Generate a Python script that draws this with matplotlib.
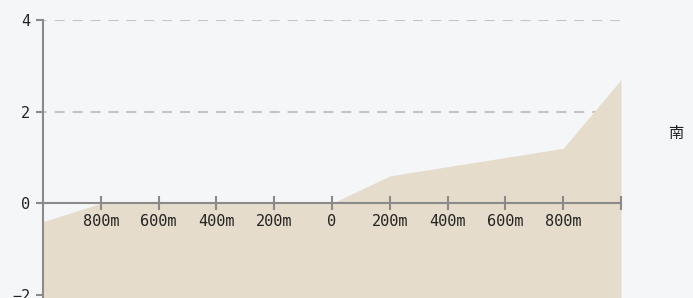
import matplotlib.pyplot as plt

# profile data (distance in m, elevation)
dist = [-1000, -800, -600, -400, -200, 0, 200, 400, 600, 800, 1000]
elev = [-0.4, 0.0, 0.0, 0.0, 0.0, 0.0, 0.6, 0.8, 1.0, 1.2, 2.7]
xticks = [-800, -600, -400, -200, 0, 200, 400, 600, 800, 1000]
xlabels = ["800m", "600m", "400m", "200m", "0", "200m", "400m", "600m", "800m", ""]
yticks = [-2, 0, 2, 4]
side_label = "南"

bg = "#f5f6f8"
axis_col = "#8a8a8a"

fig = plt.figure(figsize=(6.93, 2.98), dpi=100, facecolor=bg)
ax = fig.add_axes([43 / 693, -0.0054, (621 - 43) / 693, 1 - 20 / 298 + 0.0054])
ax.set_facecolor(bg)

ax.fill_between(dist, -2.1, elev, color="#e6dccb", linewidth=0)

ax.set_xlim(-1000, 1000)
ax.set_ylim(-2.1, 4)

for y in [2, 4]:
    ax.axhline(y, color="#c4c4c4", linewidth=1.5, linestyle=(3, (4.8, 3.8)), zorder=0.5)

for s in ["top", "right"]:
    ax.spines[s].set_visible(False)
ax.spines["bottom"].set_position(("data", 0))
for s in ["left", "bottom"]:
    ax.spines[s].set_color(axis_col)
    ax.spines[s].set_linewidth(1.5)

ax.set_xticks(xticks)
ax.set_xticklabels(xlabels)
ax.set_yticks(yticks)
ax.tick_params(axis="x", direction="inout", length=10, width=1.5, color=axis_col,
               pad=3, labelsize=11)
ax.tick_params(axis="y", direction="out", length=5, width=1.5, color=axis_col,
               pad=4, labelsize=11)
for lab in ax.get_xticklabels() + ax.get_yticklabels():
    lab.set_fontfamily("DejaVu Sans Mono")
    lab.set_color("#222222")

fig.text(676 / 693, 1 - 133 / 298, side_label, ha="center", va="center",
         fontsize=11, family=["Noto Sans CJK SC", "DejaVu Sans"], color="#222222")

fig.savefig("out.png", dpi=100, facecolor=bg)
